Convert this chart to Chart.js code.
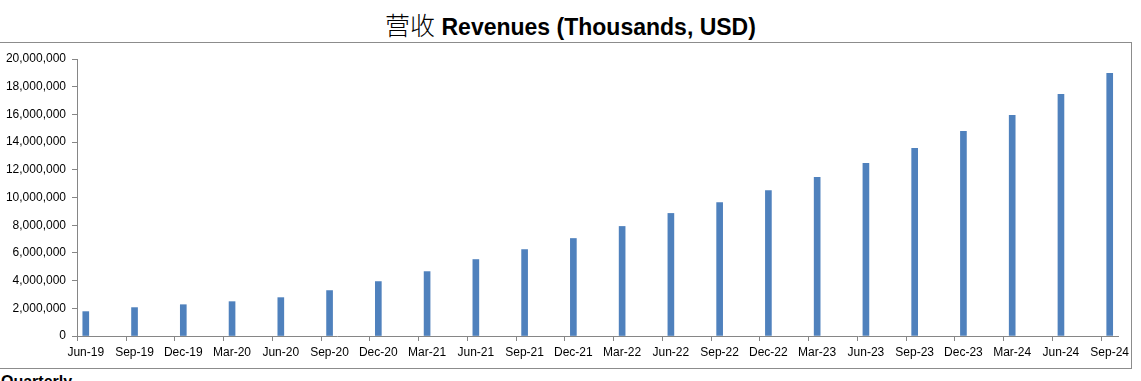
<!DOCTYPE html>
<html>
<head>
<meta charset="utf-8">
<script src="https://cdn.jsdelivr.net/npm/chart.js@4.4.1/dist/chart.umd.min.js"></script>
<style>
html,body{margin:0;padding:0;background:#fff;width:1141px;height:381px;overflow:hidden;}
#wrap{position:relative;width:1141px;height:381px;overflow:hidden;}
#frame{position:absolute;left:-1px;top:42px;width:1133px;height:327px;border:1px solid #8c8c8c;box-sizing:border-box;}
#title{position:absolute;left:0;top:8px;width:1141px;text-align:center;white-space:nowrap;line-height:32px;color:#000;}
#title .cjk{font-family:"Noto Sans CJK SC";font-weight:300;font-size:25px;}
#title .lat{font-family:"Liberation Sans",Arial,sans-serif;font-weight:bold;font-size:23px;}
#note{position:absolute;left:1px;top:374px;font-family:"Liberation Sans",Arial,sans-serif;font-weight:bold;font-size:16px;line-height:16px;color:#000;}
canvas{position:absolute;left:0;top:0;}
</style>
</head>
<body>
<div id="wrap">
  <div id="frame"></div>
  <div id="title"><span class="cjk">营收</span><span class="lat"> Revenues (Thousands, USD)</span></div>
  <div id="note">Quarterly</div>
  <canvas id="c" width="1141" height="381"></canvas>
</div>
<script>
const categories = ['Jun-19','Sep-19','Dec-19','Mar-20','Jun-20','Sep-20','Dec-20','Mar-21','Jun-21','Sep-21','Dec-21',
                    'Mar-22','Jun-22','Sep-22','Dec-22','Mar-23','Jun-23','Sep-23','Dec-23','Mar-24','Jun-24','Sep-24'];
const revenues = [1760000, 2050000, 2260000, 2480000, 2770000, 3280000, 3930000, 4650000, 5520000, 6240000, 7040000,
                  7910000, 8850000, 9640000, 10500000, 11450000, 12460000, 13550000, 14780000, 15930000, 17450000, 18970000];
const yMin = 0;
const yMax = 20000000;
const yStep = 2000000;

const points = categories.map((c, i) => ({x: i, y: revenues[i]}));

new Chart(document.getElementById('c'), {
  type: 'bar',
  data: {
    datasets: [{
      data: points,
      backgroundColor: '#4F81BD',
      borderWidth: 0,
      barThickness: 6
    }]
  },
  options: {
    responsive: false,
    animation: false,
    events: [],
    layout: {padding: {top: 59, right: 23, bottom: 15, left: 0}},
    plugins: {legend: {display: false}, tooltip: {enabled: false}, title: {display: false}},
    scales: {
      x: {
        type: 'linear',
        min: -0.18,
        max: 21.17,
        offset: false,
        afterBuildTicks: (scale) => { scale.ticks = categories.map((c, i) => ({value: i - 0.175})); },
        afterFit: (scale) => { scale.height = 30; },
        grid: {drawOnChartArea: false, drawTicks: true, tickLength: 5, color: '#868686', offset: false},
        border: {color: '#868686', width: 1},
        ticks: {
          autoSkip: false,
          maxRotation: 0,
          minRotation: 0,
          labelOffset: 8.5,
          padding: 4,
          color: '#000',
          font: {family: '"Liberation Sans", Arial, sans-serif', size: 12},
          callback: (v, i) => categories[i]
        }
      },
      y: {
        min: yMin,
        max: yMax,
        afterFit: (scale) => { scale.width = 77; },
        grid: {drawOnChartArea: false, drawTicks: true, tickLength: 5, color: '#868686'},
        border: {color: '#868686', width: 1},
        ticks: {
          stepSize: yStep,
          padding: 6,
          color: '#000',
          font: {family: '"Liberation Sans", Arial, sans-serif', size: 12},
          callback: (v) => v.toLocaleString('en-US')
        }
      }
    }
  }
});
</script>
</body>
</html>
